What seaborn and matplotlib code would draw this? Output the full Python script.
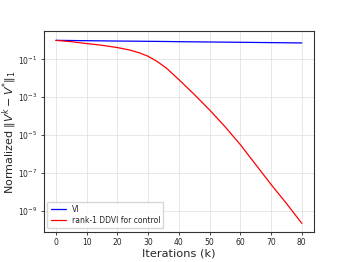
import numpy as np
import pandas as pd
import seaborn as sns
import matplotlib
matplotlib.use("Agg")
import matplotlib.pyplot as plt

# data
iters = [0, 5, 10, 15, 20, 24, 27, 30, 33, 36, 40, 45, 50, 55, 60, 65, 70, 75, 80]
vi_err = [1.0, 0.98, 0.96, 0.94, 0.92, 0.91, 0.9, 0.89, 0.88, 0.87, 0.85, 0.835,
          0.82, 0.805, 0.79, 0.775, 0.76, 0.745, 0.73]
# log10 of the DDVI error
ddvi_log = [0.0, -0.07, -0.17, -0.26, -0.38, -0.51, -0.65, -0.84, -1.12, -1.47,
            -2.07, -2.85, -3.67, -4.55, -5.5, -6.55, -7.6, -8.6, -9.65]
ddvi_err = [10 ** v for v in ddvi_log]

df = pd.DataFrame({
    "k": iters * 2,
    "err": vi_err + ddvi_err,
    "method": ["VI"] * len(iters) + ["rank-1 DDVI for control"] * len(iters),
})

sns.set_style("ticks")
plt.rcParams['font.family'] = ['DejaVu Sans']

fig, ax = plt.subplots(figsize=(3.49, 2.62), dpi=100)
sns.lineplot(data=df, x="k", y="err", hue="method",
             palette={"VI": "blue", "rank-1 DDVI for control": "red"},
             linewidth=0.9, ax=ax)

ax.set_yscale("log")
ax.set_yticks([1e-9, 1e-7, 1e-5, 1e-3, 1e-1])
ax.yaxis.set_minor_locator(matplotlib.ticker.NullLocator())
ax.set_xticks(range(0, 81, 10))
ax.set_xlim(-4, 84)
ax.set_ylim(10 ** -10.1, 10 ** 0.47)
ax.grid(True, color="#dddddd", linewidth=0.5)
ax.tick_params(labelsize=5.5, length=2.5, width=0.6, pad=2)
for s in ax.spines.values():
    s.set_linewidth(0.8)
    s.set_color("#333333")

ax.set_xlabel("Iterations (k)", fontsize=8.2, labelpad=1)
ax.set_ylabel(r"Normalized $\Vert V^k - V^{*}\Vert_1$", fontsize=8)
ax.yaxis.set_label_coords(-0.09, 0.5)
ax.legend(loc="lower left", fontsize=5.5, handlelength=2, borderpad=0.4,
          labelspacing=0.3, title=None)

fig.subplots_adjust(left=0.125, right=0.9, top=0.88, bottom=0.115)
fig.savefig("out.png", dpi=100)
